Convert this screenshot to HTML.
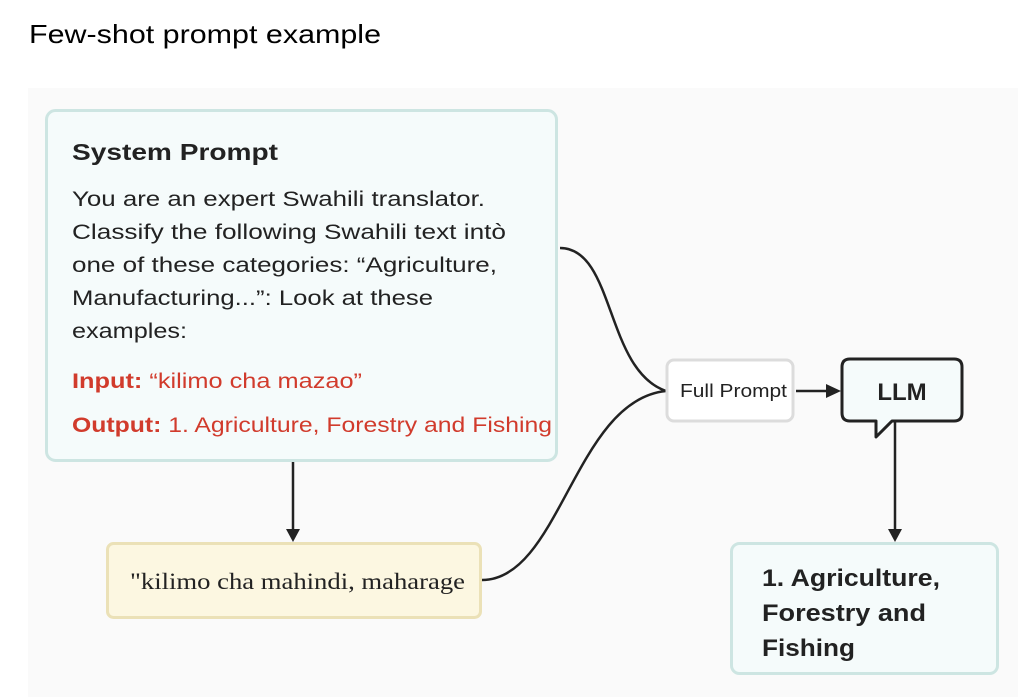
<!DOCTYPE html>
<html><head><meta charset="utf-8"><style>
html,body{margin:0;padding:0;background:#fff;}
body{width:1024px;height:697px;overflow:hidden;position:relative;font-family:"Liberation Sans","DejaVu Sans",sans-serif;}
svg{position:absolute;left:0;top:0;}
</style></head><body>
<svg width="1024" height="697" viewBox="0 0 1024 697" xmlns="http://www.w3.org/2000/svg">
<text x="29" y="43" font-family="Liberation Sans, sans-serif" font-size="26" fill="#000" textLength="352" lengthAdjust="spacingAndGlyphs">Few-shot prompt example</text>
<rect x="28" y="88" width="990" height="609" fill="#fafafa"/>
<rect x="46.5" y="110.5" width="510" height="350" rx="9" fill="#f5fbfb" stroke="#cde5e2" stroke-width="3"/>
<text x="72" y="160" font-size="23" font-weight="bold" fill="#222" textLength="206" lengthAdjust="spacingAndGlyphs">System Prompt</text>
<g font-size="21.5" fill="#222" lengthAdjust="spacingAndGlyphs">
<text x="72" y="206" textLength="413" lengthAdjust="spacingAndGlyphs">You are an expert Swahili translator.</text>
<text x="72" y="239" textLength="434" lengthAdjust="spacingAndGlyphs">Classify the following Swahili text intò</text>
<text x="72" y="272" textLength="425" lengthAdjust="spacingAndGlyphs">one of these categories: “Agriculture,</text>
<text x="72" y="305" textLength="361" lengthAdjust="spacingAndGlyphs">Manufacturing...”: Look at these</text>
<text x="72" y="338" textLength="115" lengthAdjust="spacingAndGlyphs">examples:</text>
</g>
<g font-size="21.5" fill="#d13b2c">
<text x="72" y="388" textLength="290" lengthAdjust="spacingAndGlyphs"><tspan font-weight="bold">Input:</tspan> “kilimo cha mazao”</text>
<text x="72" y="432" textLength="480" lengthAdjust="spacingAndGlyphs"><tspan font-weight="bold">Output:</tspan> 1. Agriculture, Forestry and Fishing</text>
</g>
<line x1="293" y1="462" x2="293" y2="530" stroke="#222" stroke-width="2.5"/>
<polygon points="286,529 300,529 293,542" fill="#222"/>
<rect x="107.5" y="543.5" width="373" height="74" rx="6" fill="#fcf7e1" stroke="#ebe1b7" stroke-width="3"/>
<text x="130" y="589" font-family="Liberation Serif, serif" font-size="23" fill="#222" textLength="335" lengthAdjust="spacingAndGlyphs">"kilimo cha mahindi, maharage</text>
<path d="M560,248 C615,248 605,370 666,391" fill="none" stroke="#222" stroke-width="2.5"/>
<path d="M482,580 C560,580 575,400 666,391" fill="none" stroke="#222" stroke-width="2.5"/>
<rect x="667" y="360" width="126" height="61" rx="7" fill="#fff" stroke="#dcdcdc" stroke-width="3"/>
<text x="680" y="397" font-size="18" fill="#222" textLength="107" lengthAdjust="spacingAndGlyphs">Full Prompt</text>
<line x1="796" y1="391" x2="828" y2="391" stroke="#222" stroke-width="2.5"/>
<polygon points="826,384 841,391 826,398" fill="#222"/>
<path d="M850,359 H954 Q962,359 962,367 V413 Q962,421 954,421 H892 L876,437 V421 H850 Q842,421 842,413 V367 Q842,359 850,359 Z" fill="#f5fbfb" stroke="#222" stroke-width="3" stroke-linejoin="round"/>
<text x="902" y="400" font-size="24" font-weight="bold" fill="#222" text-anchor="middle">LLM</text>
<line x1="895" y1="421" x2="895" y2="530" stroke="#222" stroke-width="2.5"/>
<polygon points="888,529 902,529 895,542" fill="#222"/>
<rect x="731.5" y="543.5" width="266" height="130" rx="8" fill="#f5fbfb" stroke="#cde5e2" stroke-width="3"/>
<g font-size="24" font-weight="bold" fill="#222">
<text x="762" y="586" textLength="178" lengthAdjust="spacingAndGlyphs">1. Agriculture,</text>
<text x="762" y="621" textLength="164" lengthAdjust="spacingAndGlyphs">Forestry and</text>
<text x="762" y="656" textLength="93" lengthAdjust="spacingAndGlyphs">Fishing</text>
</g>
</svg>
</body></html>
